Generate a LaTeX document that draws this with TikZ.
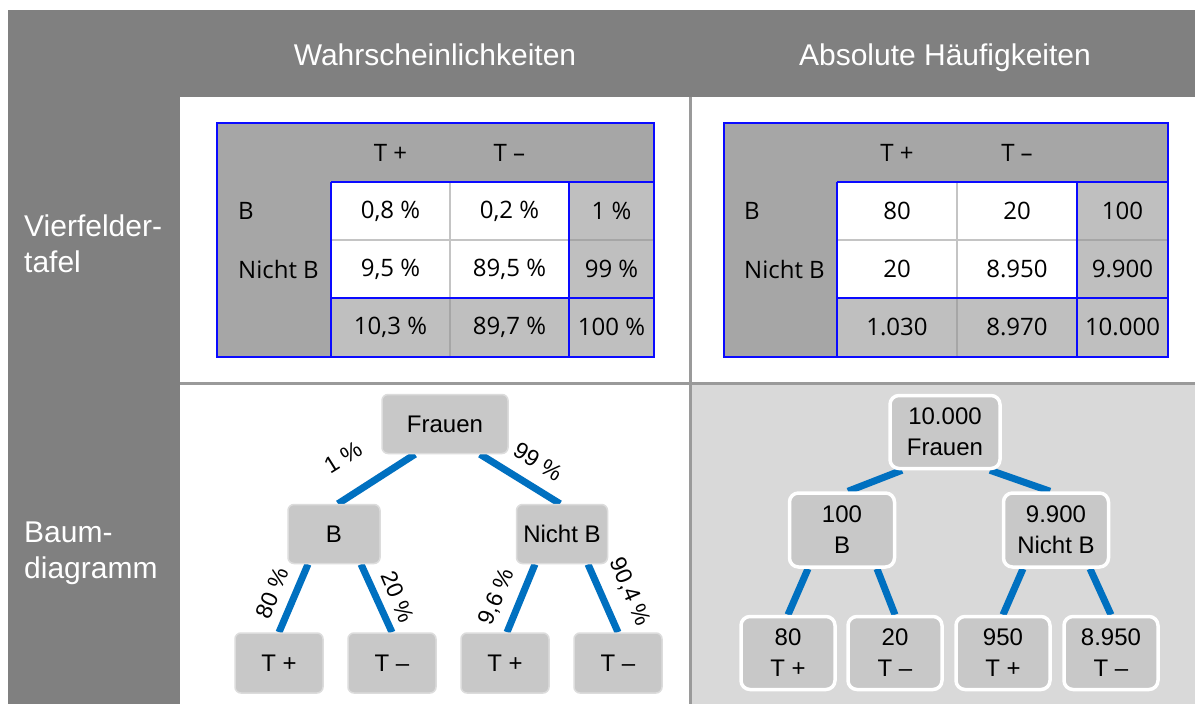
\documentclass[tikz,border=0pt]{standalone}
\usepackage{fontspec}
\setmainfont{Liberation Sans}
\newfontfamily\tabfont{Open Sans}
\pgfdeclarelayer{bg}
\pgfdeclarelayer{edgelayer}
\pgfsetlayers{bg,edgelayer,main}
\definecolor{headgray}{HTML}{808080}
\definecolor{gridgray}{HTML}{9A9A9A}
\definecolor{cellgray}{HTML}{D9D9D9}
\definecolor{tabdark}{HTML}{A6A6A6}
\definecolor{tabmid}{HTML}{BFBFBF}
\definecolor{tabline}{HTML}{C4C4C4}
\definecolor{tabblue}{HTML}{0A0AFF}
\definecolor{boxgray}{HTML}{C8C8C8}
\definecolor{boxedge}{HTML}{DCDCDC}
\definecolor{treeblue}{HTML}{0070C0}

% contingency table frame: x positions of left edge, three column borders, right edge
\newcommand\vtable[5]{%
  \fill[tabdark] (#1,123) rectangle (#5,357);
  \fill[white] (#2,182) rectangle (#4,298);
  \fill[tabmid] (#4,182) rectangle (#5,357);
  \fill[tabmid] (#2,298) rectangle (#4,357);
  \draw[tabline, line width=2pt] (#3,182) -- (#3,298);
  \draw[tabline, line width=2pt] (#2,240) -- (#4,240);
  \draw[tabdark, line width=2pt] (#4,240) -- (#5,240);
  \draw[tabdark, line width=2pt] (#3,298) -- (#3,357);
  \draw[tabblue, line width=2.2pt] (#2,182) -- (#5,182);
  \draw[tabblue, line width=2.2pt] (#2,298) -- (#5,298);
  \draw[tabblue, line width=2.2pt] (#2,182) -- (#2,357);
  \draw[tabblue, line width=2.2pt] (#4,182) -- (#4,357);
  \draw[tabblue, line width=2.2pt] (#1,123) rectangle (#5,357);
}

\begin{document}
\begin{tikzpicture}[x=1pt, y=-1pt,
  headtext/.style={text=white, font=\fontsize{30}{36}\selectfont, inner sep=0, anchor=base},
  rowtext/.style={text=white, font=\fontsize{30}{36}\selectfont, align=left, inner sep=0, anchor=west},
  tcell/.style={font=\tabfont\fontsize{24}{28}\selectfont, inner sep=0},
  tlabel/.style={tcell, anchor=west},
  pbox/.style={rounded corners=6pt, fill=boxgray, draw=boxedge, line width=1.5pt,
    font=\fontsize{24}{30}\selectfont, inner sep=0, minimum height=59pt},
  abox/.style={rounded corners=9pt, fill=boxgray, draw=white, line width=3.5pt,
    font=\fontsize{24}{31}\selectfont, align=center, inner sep=0, minimum height=73pt},
  branch/.style={treeblue, line width=7pt},
  plabel/.style={font=\fontsize{23}{28}\selectfont, inner sep=0}]

\useasboundingbox (0,0) rectangle (1195,704);

% ---------- grid of the overview ----------
\begin{pgfonlayer}{bg}
  \fill[white] (0,0) rectangle (1195,704);
  \fill[headgray] (8,10) rectangle (1195,97);
  \fill[headgray] (8,97) rectangle (180,704);
  \fill[cellgray] (690,383) rectangle (1195,704);
  \draw[gridgray, line width=3pt] (180,383) -- (1195,383);
  \draw[gridgray, line width=3pt] (690,97) -- (690,704);
\end{pgfonlayer}

\node[headtext] (h1) at (435,65) {Wahrscheinlichkeiten};
\node[headtext] (h2) at (945,65) {Absolute Häufigkeiten};
\node[rowtext] (r1) at (24,244) {Vierfelder-\\tafel};
\node[rowtext] (r2) at (24,553) {Baum-\\diagramm};

% ---------- table of probabilities ----------
\vtable{217}{331}{450}{569}{654}
\node[tcell] (lt-tp) at (390.5,153) {T +};
\node[tcell] (lt-tm) at (509.5,153) {T –};
\node[tlabel] (lt-b) at (238,211) {B};
\node[tlabel] (lt-nb) at (238,269) {Nicht B};
\node[tcell] (lt-11) at (390.5,211) {0,8 \%};
\node[tcell] (lt-12) at (509.5,211) {0,2 \%};
\node[tcell] (lt-13) at (611.5,211) {1 \%};
\node[tcell] (lt-21) at (390.5,269) {9,5 \%};
\node[tcell] (lt-22) at (509.5,269) {89,5 \%};
\node[tcell] (lt-23) at (611.5,269) {99 \%};
\node[tcell] (lt-31) at (390.5,327) {10,3 \%};
\node[tcell] (lt-32) at (509.5,327) {89,7 \%};
\node[tcell] (lt-33) at (611.5,327) {100 \%};

% ---------- table of absolute frequencies ----------
\vtable{724}{837}{957}{1077}{1168}
\node[tcell] (rt-tp) at (897,153) {T +};
\node[tcell] (rt-tm) at (1017,153) {T –};
\node[tlabel] (rt-b) at (744,211) {B};
\node[tlabel] (rt-nb) at (744,269) {Nicht B};
\node[tcell] (rt-11) at (897,211) {80};
\node[tcell] (rt-12) at (1017,211) {20};
\node[tcell] (rt-13) at (1122.5,211) {100};
\node[tcell] (rt-21) at (897,269) {20};
\node[tcell] (rt-22) at (1017,269) {8.950};
\node[tcell] (rt-23) at (1122.5,269) {9.900};
\node[tcell] (rt-31) at (897,327) {1.030};
\node[tcell] (rt-32) at (1017,327) {8.970};
\node[tcell] (rt-33) at (1122.5,327) {10.000};

% ---------- probability tree ----------
\node[pbox, minimum width=126pt] (fr) at (445,424) {Frauen};
\node[pbox, minimum width=92pt] (b) at (334,534) {B};
\node[pbox, minimum width=91pt] (nb) at (562,534) {Nicht B};
\node[pbox, minimum width=88pt, minimum height=60pt] (bp) at (279,663) {T +};
\node[pbox, minimum width=88pt, minimum height=60pt] (bm) at (392,663) {T –};
\node[pbox, minimum width=88pt, minimum height=60pt] (np) at (505,663) {T +};
\node[pbox, minimum width=88pt, minimum height=60pt] (nm) at (618,663) {T –};

\begin{pgfonlayer}{edgelayer}
  \draw[branch] ([xshift=-30pt]fr.south) -- ([xshift=4pt]b.north);
  \draw[branch] ([xshift=35pt]fr.south) -- ([xshift=-2pt]nb.north);
  \draw[branch] ([xshift=-26pt]b.south) -- (bp.north);
  \draw[branch] ([xshift=27pt]b.south) -- (bm.north);
  \draw[branch] ([xshift=-27pt]nb.south) -- ([xshift=2pt]np.north);
  \draw[branch] ([xshift=26pt]nb.south) -- (nm.north);
\end{pgfonlayer}

\node[plabel, rotate=32] (p1) at (343,457) {1 \%};
\node[plabel, rotate=-32] (p99) at (538,462) {99 \%};
\node[plabel, rotate=67] (p80) at (272,593) {80 \%};
\node[plabel, rotate=-67] (p20) at (398,597) {20 \%};
\node[plabel, rotate=67] (p96) at (497,597) {9,6 \%};
\node[plabel, rotate=-67] (p904) at (630,592) {90,4 \%};

% ---------- frequency tree ----------
\node[abox, minimum width=110pt] (af) at (945,432) {10.000\\Frauen};
\node[abox, minimum width=105pt, minimum height=74pt] (ab) at (842,530) {100\\B};
\node[abox, minimum width=105pt, minimum height=74pt] (anb) at (1056,530) {9.900\\Nicht B};
\node[abox, minimum width=94pt] (abp) at (788,653) {80\\T +};
\node[abox, minimum width=94pt] (abm) at (895,653) {20\\T –};
\node[abox, minimum width=94pt] (anp) at (1003,653) {950\\T +};
\node[abox, minimum width=94pt] (anm) at (1111,653) {8.950\\T –};

\begin{pgfonlayer}{edgelayer}
  \draw[branch] ([xshift=-43pt]af.south) -- ([xshift=6pt]ab.north);
  \draw[branch] ([xshift=45pt]af.south) -- ([xshift=-6pt]anb.north);
  \draw[branch] ([xshift=-34pt]ab.south) -- (abp.north);
  \draw[branch] ([xshift=35pt]ab.south) -- (abm.north);
  \draw[branch] ([xshift=-33pt]anb.south) -- (anp.north);
  \draw[branch] ([xshift=34pt]anb.south) -- (anm.north);
\end{pgfonlayer}

\end{tikzpicture}
\end{document}
